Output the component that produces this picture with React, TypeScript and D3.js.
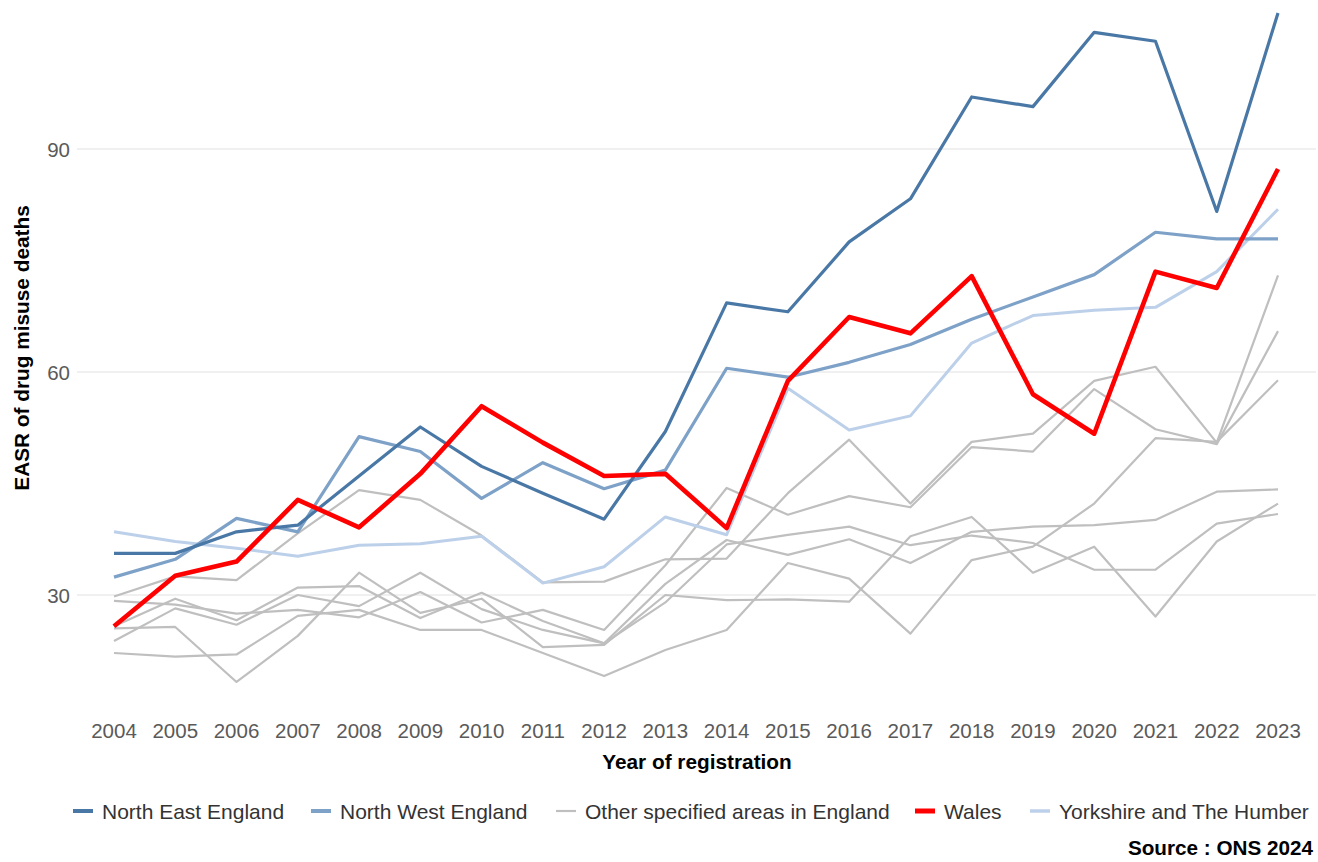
import React from "react";
import * as d3 from "d3";

const years = [2004, 2005, 2006, 2007, 2008, 2009, 2010, 2011, 2012, 2013, 2014, 2015, 2016, 2017, 2018, 2019, 2020, 2021, 2022, 2023];

const northEast = [35.6, 35.6, 38.5, 39.4, 46.0, 52.6, 47.3, 43.7, 40.2, 52.0, 69.3, 68.1, 77.5, 83.3, 97.0, 95.7, 105.7, 104.5, 81.6, 108.3];
const northWest = [32.4, 34.8, 40.3, 38.5, 51.3, 49.3, 43.0, 47.8, 44.3, 46.8, 60.5, 59.3, 61.3, 63.7, 67.1, 70.1, 73.1, 78.8, 77.9, 77.9];
const wales = [25.8, 32.6, 34.5, 42.8, 39.1, 46.3, 55.4, 50.5, 46.0, 46.3, 39.0, 58.8, 67.4, 65.2, 72.9, 57.0, 51.7, 73.5, 71.3, 87.3];
const yorkshire = [38.5, 37.2, 36.3, 35.2, 36.7, 36.9, 37.9, 31.6, 33.8, 40.5, 38.1, 57.8, 52.2, 54.1, 63.9, 67.6, 68.3, 68.7, 73.5, 81.9];

const otherA = [29.8, 32.5, 32.0, 38.3, 44.1, 42.8, 38.0, 31.7, 31.8, 34.8, 34.9, 43.7, 50.9, 42.3, 50.6, 51.7, 58.8, 60.7, 50.5, 73.0];
const otherB = [29.2, 28.7, 27.5, 28.0, 27.0, 30.4, 26.3, 28.0, 25.3, 34.0, 44.4, 40.8, 43.3, 41.8, 49.9, 49.3, 57.7, 52.3, 50.3, 65.5];
const otherC = [22.2, 21.7, 22.0, 27.2, 28.0, 25.3, 25.3, 22.2, 19.1, 22.6, 25.3, 34.3, 32.2, 24.8, 34.7, 36.5, 42.3, 51.1, 50.6, 58.9];
const otherD = [25.8, 29.5, 26.6, 31.0, 31.2, 26.9, 30.3, 26.5, 23.5, 31.5, 37.4, 35.4, 37.5, 34.3, 38.5, 39.2, 39.4, 40.1, 43.9, 44.2];
const otherE = [23.8, 28.2, 26.0, 30.0, 28.5, 33.0, 28.1, 25.3, 23.5, 29.0, 36.8, 38.1, 39.2, 36.7, 38.0, 37.0, 33.4, 33.4, 39.6, 40.9];
const otherF = [25.5, 25.7, 18.3, 24.5, 33.0, 27.6, 29.5, 23.0, 23.3, 30.0, 29.3, 29.4, 29.1, 37.9, 40.5, 33.0, 36.5, 27.1, 37.2, 42.3];

const yTicks = [30, 60, 90];

const legendLabels = ["North East England", "North West England", "Other specified areas in England", "Wales", "Yorkshire and The Humber"];

const FONT = "'Liberation Sans', Arial, Helvetica, sans-serif";

const COLORS = {
  ne: "#4a78a6",
  nw: "#7ea1c8",
  other: "#bfbfbf",
  wales: "#ff0000",
  york: "#bcd0ea",
};

export default function App() {
  const W = 1318;
  const H = 862;

  const x = d3.scalePoint<number>().domain(years).range([114, 1278]);
  // 90 -> 149, 60 -> 372
  const y = d3.scaleLinear().domain([60, 90]).range([372, 149]);

  const lineGen = d3
    .line<number>()
    .x((_, i) => x(years[i]) as number)
    .y((d) => y(d));

  const greySeries = [otherA, otherB, otherC, otherD, otherE, otherF];

  const colored = [
    { data: yorkshire, color: COLORS.york, w: 3 },
    { data: northWest, color: COLORS.nw, w: 3.2 },
    { data: northEast, color: COLORS.ne, w: 3.2 },
    { data: wales, color: COLORS.wales, w: 4.6 },
  ];

  const legendColors = [COLORS.ne, COLORS.nw, COLORS.other, COLORS.wales, COLORS.york];
  const legendWidths = [4, 4, 2.2, 5, 3.5];
  const legendStarts = [73, 311, 556, 915, 1030];

  return (
    <svg
      width={W}
      height={H}
      style={{ position: "absolute", left: 0, top: 0, background: "#ffffff" }}
      fontFamily={FONT}
    >
      <rect x={0} y={0} width={W} height={H} fill="#ffffff" />
      {yTicks.map((t) => (
        <g key={t}>
          <line x1={77} x2={1316} y1={y(t)} y2={y(t)} stroke="#ebebeb" strokeWidth={1.6} />
          <text
            x={70}
            y={y(t)}
            textAnchor="end"
            dominantBaseline="central"
            fontSize={20.5}
            fill="#5a5a5a"
          >
            {t}
          </text>
        </g>
      ))}

      <text
        transform="translate(29,348) rotate(-90)"
        textAnchor="middle"
        fontSize={20.8}
        fontWeight="bold"
        fill="#000"
      >
        EASR of drug misuse deaths
      </text>

      {years.map((yr) => (
        <text
          key={yr}
          x={x(yr)}
          y={738}
          textAnchor="middle"
          fontSize={20.5}
          fill="#5a5a5a"
        >
          {yr}
        </text>
      ))}

      <text x={697} y={769} textAnchor="middle" fontSize={20.8} fontWeight="bold" fill="#000">
        Year of registration
      </text>

      <g fill="none" strokeLinejoin="round" strokeLinecap="butt">
        {greySeries.map((s, i) => (
          <path key={i} d={lineGen(s) || ""} stroke={COLORS.other} strokeWidth={2.2} />
        ))}
        {colored.map((c, i) => (
          <path key={i} d={lineGen(c.data) || ""} stroke={c.color} strokeWidth={c.w} />
        ))}
      </g>

      {legendLabels.map((lab, i) => (
        <g key={lab}>
          <line
            x1={legendStarts[i]}
            x2={legendStarts[i] + 20}
            y1={811}
            y2={811}
            stroke={legendColors[i]}
            strokeWidth={legendWidths[i]}
          />
          <text
            x={legendStarts[i] + 29}
            y={811}
            dominantBaseline="central"
            fontSize={21}
            fill="#333"
          >
            {lab}
          </text>
        </g>
      ))}

      <text x={1313} y={855} textAnchor="end" fontSize={20.7} fontWeight="bold" fill="#000">
        Source : ONS 2024
      </text>
    </svg>
  );
}
